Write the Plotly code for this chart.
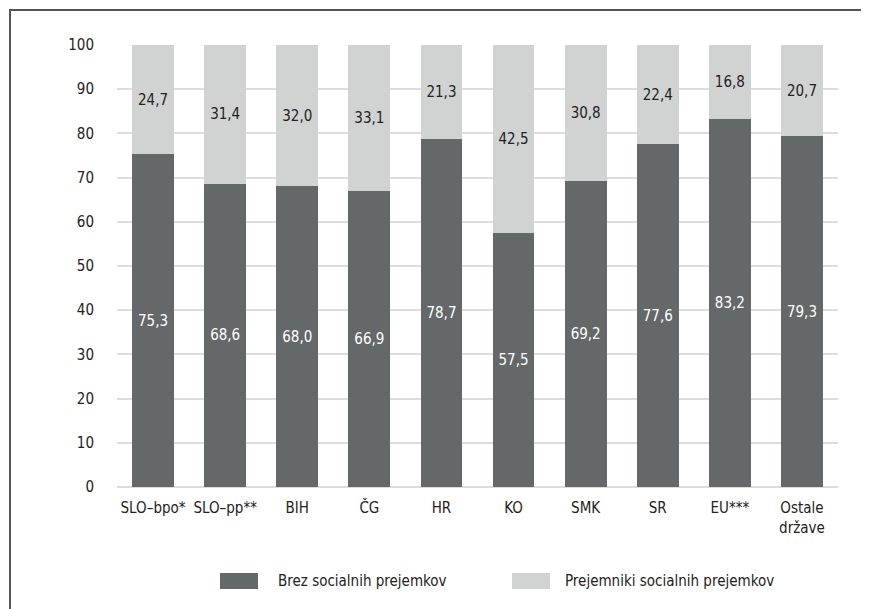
import plotly.graph_objects as go

categories = ["SLO–bpo*", "SLO–pp**", "BIH", "ČG", "HR", "KO", "SMK", "SR", "EU***", "Ostale<br>države"]
brez = [75.3, 68.6, 68.0, 66.9, 78.7, 57.5, 69.2, 77.6, 83.2, 79.3]
prejemniki = [24.7, 31.4, 32.0, 33.1, 21.3, 42.5, 30.8, 22.4, 16.8, 20.7]
series_names = ["Brez socialnih prejemkov", "Prejemniki socialnih prejemkov"]

DARK = "#646868"
LIGHT = "#d1d3d3"
FONT = "DejaVu Sans Condensed, Liberation Sans, sans-serif"

# the page puts the figure 8px in from the top-left corner
OFF = 8
L, T = 117 - OFF, 45 - OFF
PW, PH = 721, 442


def fmt(values):
    return [f"{v:.1f}".replace(".", ",") for v in values]


def px_x(x):
    return (x - OFF - L) / PW


def px_y(y):
    return (T + PH - (y - OFF)) / PH


fig = go.Figure()
fig.add_trace(go.Bar(
    x=categories, y=brez, name=series_names[0],
    marker=dict(color=DARK, line=dict(width=0)),
    text=fmt(brez), textposition="inside", insidetextanchor="middle",
    textfont=dict(color="white", size=15, family=FONT),
    showlegend=False,
))
fig.add_trace(go.Bar(
    x=categories, y=prejemniki, name=series_names[1],
    marker=dict(color=LIGHT, line=dict(width=0)),
    text=fmt(prejemniki), textposition="inside", insidetextanchor="middle",
    textfont=dict(color="#222222", size=15, family=FONT),
    showlegend=False,
))

# outer frame (cropped on the right and bottom like the original)
fig.add_shape(type="rect", xref="paper", yref="paper",
              x0=px_x(10), x1=1.3, y0=-0.6, y1=px_y(10),
              line=dict(color="#555555", width=2), fillcolor="rgba(0,0,0,0)", layer="below")

# custom legend with wide swatches
legend_items = [(series_names[0], DARK, 220, 276), (series_names[1], LIGHT, 512, 563)]
for name, color, box_x, text_x in legend_items:
    fig.add_shape(type="rect", xref="paper", yref="paper",
                  x0=px_x(box_x), x1=px_x(box_x + 38),
                  y0=px_y(589), y1=px_y(573),
                  line=dict(width=0), fillcolor=color)
    fig.add_annotation(text=name, xref="paper", yref="paper",
                       x=px_x(text_x), y=px_y(581),
                       xanchor="left", yanchor="middle", showarrow=False,
                       font=dict(size=15, family=FONT, color="#222222"))

fig.update_layout(
    barmode="stack",
    bargap=0.42,
    width=869, height=609,
    margin=dict(l=L, r=869 - L - PW, t=T, b=609 - T - PH),
    plot_bgcolor="white", paper_bgcolor="white",
    font=dict(family=FONT, size=15, color="#222222"),
    xaxis=dict(showgrid=False, ticks="", showline=False, tickangle=0, automargin=False,
               ticklabelstandoff=10, tickfont=dict(size=15)),
    yaxis=dict(range=[0, 100], dtick=10, showgrid=True, gridcolor="#dcdcdc", gridwidth=1.5,
               zeroline=True, zerolinecolor="#dcdcdc", zerolinewidth=1.5, automargin=False,
               ticks="", ticklabelstandoff=22, tickfont=dict(size=15)),
)

fig.write_html("out.html")
